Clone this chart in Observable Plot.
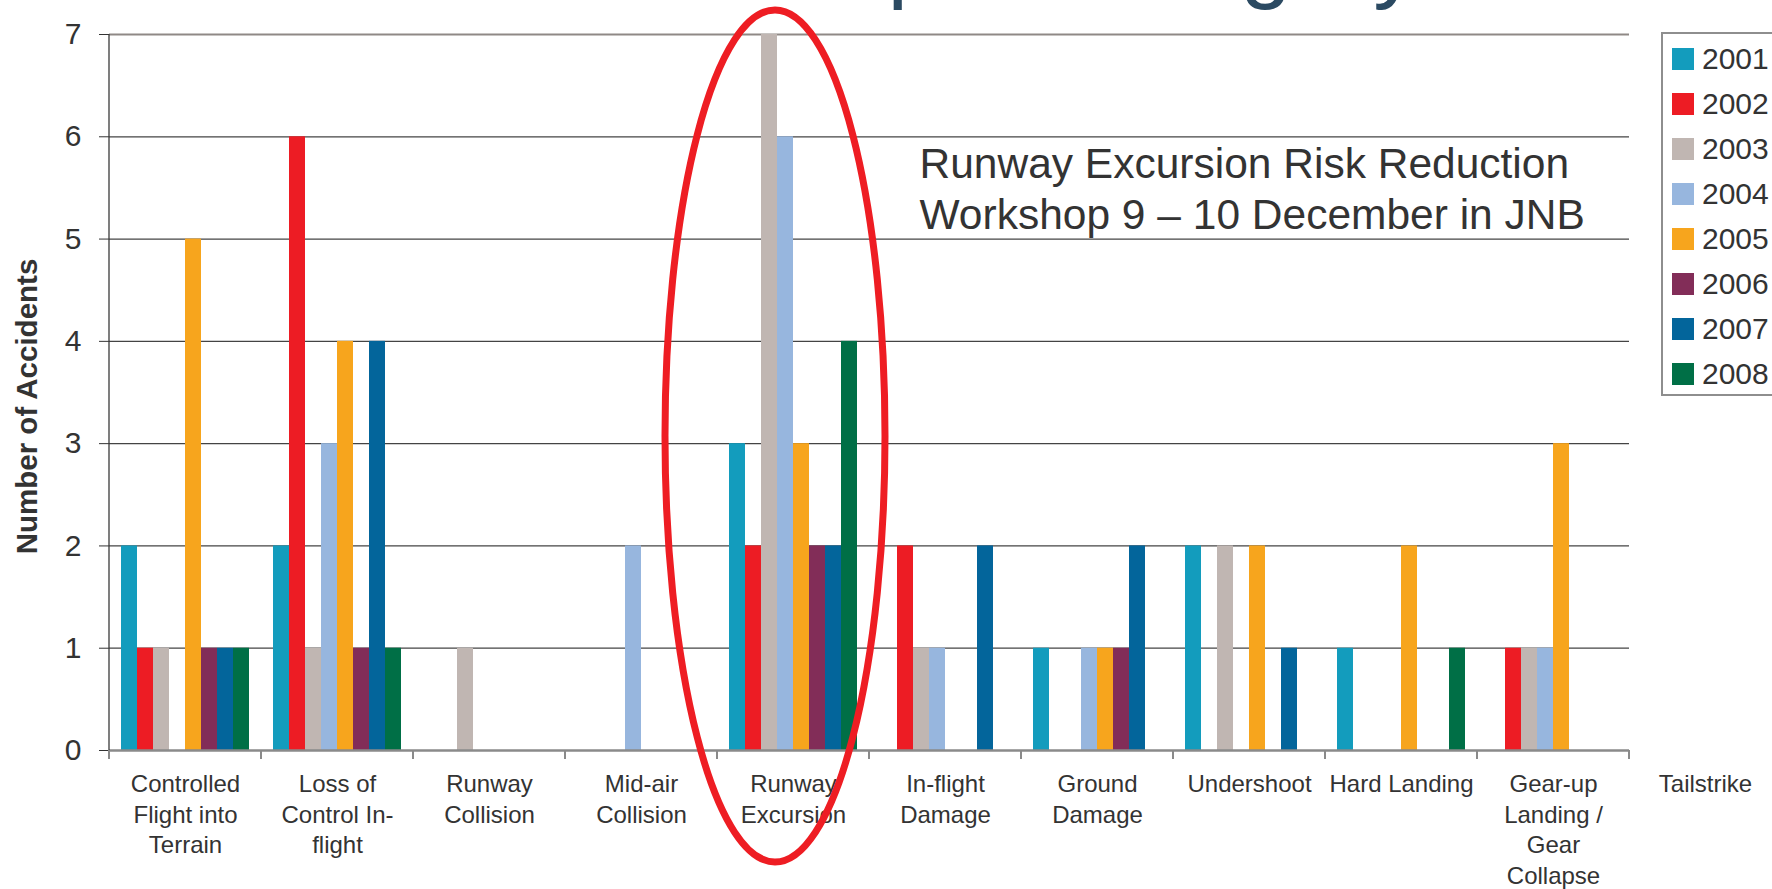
<!DOCTYPE html>
<html>
<head>
<meta charset="utf-8">
<script src="https://cdn.jsdelivr.net/npm/d3@7"></script>
<script src="https://cdn.jsdelivr.net/npm/@observablehq/plot@0.6"></script>
<style>
  html, body { margin: 0; padding: 0; background: #fff; overflow: hidden; }
  #wrap { position: relative; width: 1772px; height: 889px; overflow: hidden; }
  #wrap svg { position: absolute; left: 0; top: 0; max-width: none; }
  #title { position: absolute; left: 463px; top: -87px; font: 92px "Liberation Sans", Arial, sans-serif; line-height: 92px; color: #2b4a62; white-space: nowrap; }
  #legend { position: absolute; left: 1661px; top: 32px; width: 140px; height: 364px; border: 2px solid #8e8e8e; background: #fff; box-sizing: border-box; padding-top: 2.5px; }
  .item { height: 45px; display: flex; align-items: center; }
  .sw { width: 22px; height: 22px; margin-left: 9px; margin-right: 8px; flex: none; }
  .lab { font: 30px "Liberation Sans", Arial, sans-serif; color: #333; }
</style>
</head>
<body>
<div id="wrap"></div>
<script>
// ---- data ----
const categories = [
  "Controlled Flight into Terrain", "Loss of Control In-flight", "Runway Collision",
  "Mid-air Collision", "Runway Excursion", "In-flight Damage", "Ground Damage",
  "Undershoot", "Hard Landing", "Gear-up Landing / Gear Collapse", "Tailstrike"
];
const categoryLabels = [
  "Controlled\nFlight into\nTerrain", "Loss of\nControl In-\nflight", "Runway\nCollision",
  "Mid-air\nCollision", "Runway\nExcursion", "In-flight\nDamage", "Ground\nDamage",
  "Undershoot", "Hard Landing", "Gear-up\nLanding /\nGear\nCollapse", "Tailstrike"
];
const years = ["2001", "2002", "2003", "2004", "2005", "2006", "2007", "2008"];
const yearColors = ["#139cbd", "#ed1c24", "#c0b6b2", "#97b6de", "#f7a51d", "#822d58", "#03659b", "#006f46"];

const y2001 = [2, 2, 0, 0, 3, 0, 1, 2, 1, 0, 0];
const y2002 = [1, 6, 0, 0, 2, 2, 0, 0, 0, 1, 0];
const y2003 = [1, 1, 1, 0, 7, 1, 0, 2, 0, 1, 0];
const y2004 = [0, 3, 0, 2, 6, 1, 1, 0, 0, 1, 0];
const y2005 = [5, 4, 0, 0, 3, 0, 1, 2, 2, 3, 0];
const y2006 = [1, 1, 0, 0, 2, 0, 1, 0, 0, 0, 0];
const y2007 = [1, 4, 0, 0, 2, 2, 2, 1, 0, 0, 0];
const y2008 = [1, 1, 0, 0, 4, 0, 0, 0, 1, 0, 0];
const series = [y2001, y2002, y2003, y2004, y2005, y2006, y2007, y2008];

const yTicks = [0, 1, 2, 3, 4, 5, 6, 7];
const gridTicks = [1, 2, 3, 4, 5, 6];
const yLabel = "Number of Accidents";
const annotation = "Runway Excursion Risk Reduction\nWorkshop 9 \u2013 10 December in JNB";
const titleText = "Accidents per Category";

// ---- build table ----
const data = [];
years.forEach((yr, j) => series[j].forEach((v, i) => {
  if (v > 0) data.push({category: categories[i], year: yr, value: v});
}));

const font = '"Liberation Sans", Arial, Helvetica, sans-serif';

const chart = Plot.plot({
  width: 1790,
  height: 889,
  marginLeft: 105,
  marginRight: 6,
  marginTop: 34,
  marginBottom: 139,
  style: {fontFamily: font, color: "#333", background: "transparent"},
  fx: {domain: categories, padding: 0, label: null},
  x: {domain: years, paddingInner: 0, paddingOuter: 0.727, axis: null},
  y: {domain: [0, 7], label: null},
  color: {domain: years, range: yearColors},
  marks: [
    Plot.gridY(gridTicks, {stroke: "#444", strokeOpacity: 1, strokeWidth: 1.2}),
    Plot.ruleY([7], {stroke: "#8f8986", strokeWidth: 2}),
    Plot.barY(data, {fx: "category", x: "year", y: "value", fill: "year"}),
    Plot.ruleY([0], {stroke: "#8a8a8a", strokeWidth: 2.5}),
    Plot.axisY(yTicks, {tickSize: 10, tickPadding: 18, fontSize: 30, color: "#333", label: null, tickFormat: (d) => String(d)}),
    Plot.axisFx({
      anchor: "bottom", tickSize: 0, tickPadding: 20, fontSize: 24, lineHeight: 1.27,
      color: "#333", label: null,
      tickFormat: (c) => categoryLabels[categories.indexOf(c)]
    }),
    Plot.text([yLabel], {
      facet: "super", text: (d) => d, frameAnchor: "left", textAnchor: "middle", lineAnchor: "middle",
      rotate: -90, dx: -82, dy: 14, fontSize: 29.5, fontWeight: "bold", fill: "#333"
    }),
    Plot.text([annotation], {
      facet: "super", text: (d) => d, frameAnchor: "top-left", textAnchor: "start",
      lineAnchor: "top", dx: 810, dy: 107, fontSize: 42.5, lineHeight: 1.21, fill: "#333"
    })
  ]
});

const wrap = document.getElementById("wrap");
wrap.appendChild(chart);

// ---- axis line, category boundary ticks, highlight ellipse (from the chart's scales) ----
const fx = chart.scale("fx");
const ys = chart.scale("y");
const svg = d3.select(chart);
const yBase = ys.apply(0), yTop = ys.apply(7);
const xLeft = fx.apply(categories[0]);

svg.append("line")
  .attr("x1", xLeft).attr("x2", xLeft).attr("y1", yTop).attr("y2", yBase + 1)
  .attr("stroke", "#3a3a3a").attr("stroke-width", 1.3);

const bounds = categories.map((c) => fx.apply(c));
bounds.push(fx.apply(categories[categories.length - 1]) + fx.bandwidth);
svg.append("g").selectAll("line").data(bounds).join("line")
  .attr("x1", (d) => d).attr("x2", (d) => d)
  .attr("y1", yBase).attr("y2", yBase + 9)
  .attr("stroke", "#8a8a8a").attr("stroke-width", 2);

const highlight = {category: "Runway Excursion", dx: -18, centerValue: 3.07, rx: 110, ry: 426};
svg.append("ellipse")
  .attr("cx", fx.apply(highlight.category) + fx.bandwidth / 2 + highlight.dx)
  .attr("cy", ys.apply(highlight.centerValue))
  .attr("rx", highlight.rx).attr("ry", highlight.ry)
  .attr("fill", "none").attr("stroke", "#ee1d23").attr("stroke-width", 7);

// ---- title (clipped at the top, as in the reference) ----
const title = document.createElement("div");
title.id = "title";
title.textContent = titleText;
wrap.appendChild(title);

// ---- legend from the chart's color scale ----
const color = chart.scale("color");
const legend = d3.select(wrap).append("div").attr("id", "legend");
const items = legend.selectAll(".item").data(color.domain).join("div").attr("class", "item");
items.append("div").attr("class", "sw").style("background", (d, i) => color.range[i]);
items.append("div").attr("class", "lab").text((d) => d);
</script>
</body>
</html>
